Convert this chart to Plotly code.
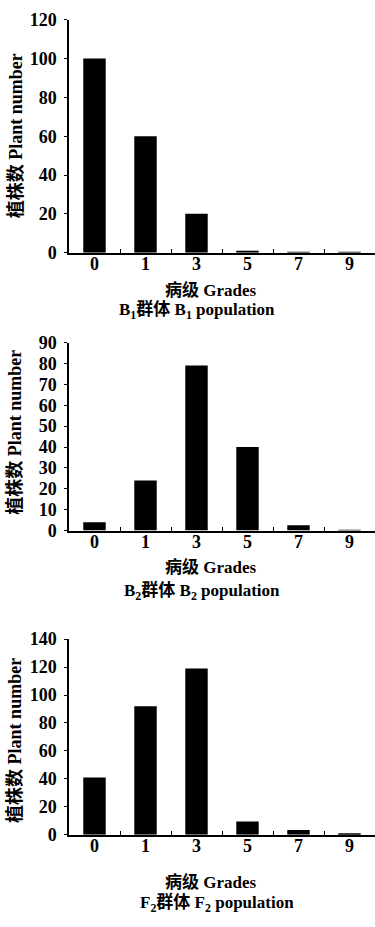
import plotly.graph_objects as go

grades = ["0", "1", "3", "5", "7", "9"]
b1_values = [100, 60, 20, 0.6, 0.3, 0.3]
b2_values = [4, 24, 79, 40, 2.5, 0.4]
f2_values = [41, 92, 119, 9.5, 3.5, 0.6]

b1_ticks = [0, 20, 40, 60, 80, 100, 120]
b2_ticks = [0, 10, 20, 30, 40, 50, 60, 70, 80, 90]
f2_ticks = [0, 20, 40, 60, 80, 100, 120, 140]

y_title = "植株数 Plant number"
x_title = "病级 Grades"
subtitles = ["B<sub>1</sub>群体 B<sub>1</sub> population",
             "B<sub>2</sub>群体 B<sub>2</sub> population",
             "F<sub>2</sub>群体 F<sub>2</sub> population"]

W, H = 375, 927
FONT = "Liberation Serif, Times New Roman, Noto Sans CJK SC, serif"

def py(px):
    return 1 - px / H

panels = [
    dict(values=b1_values, ticks=b1_ticks, top=10, bottom=248, ymax=120,
         title_y=286, sub_y=307, sub_x=197, ytitle_y=129),
    dict(values=b2_values, ticks=b2_ticks, top=340, bottom=532, ymax=90,
         title_y=569, sub_y=594, sub_x=202, ytitle_y=432),
    dict(values=f2_values, ticks=f2_ticks, top=643, bottom=843, ymax=140,
         title_y=891, sub_y=913, sub_x=217, ytitle_y=747),
]

fig = go.Figure()
annotations = []
x0 = 69
for i, p in enumerate(panels):
    sfx = "" if i == 0 else str(i + 1)
    fig.add_trace(go.Bar(x=grades, y=p["values"], marker=dict(color="black", line=dict(width=0)),
                         width=0.44, xaxis="x" + sfx, yaxis="y" + sfx, showlegend=False))
    fig.layout["xaxis" + sfx] = dict(
        domain=[x0 / W, 1.0], anchor="y" + sfx, type="category", range=[-0.5, 5.5],
        showline=True, linecolor="black", linewidth=1.5, showgrid=False, zeroline=False,
        ticks="inside", tickson="boundaries", ticklen=4, tickcolor="black", tickwidth=1.2,
        ticklabelstandoff=-6,
        tickfont=dict(family=FONT, size=18, color="black", weight="bold"), fixedrange=True)
    fig.layout["yaxis" + sfx] = dict(
        domain=[py(p["bottom"]), py(p["top"])], anchor="x" + sfx, range=[0, p["ymax"]],
        tickvals=p["ticks"], showline=True, linecolor="black", linewidth=1.5,
        showgrid=False, zeroline=False, ticks="outside", ticklen=3, tickcolor="black",
        tickwidth=1.2, ticklabelstandoff=4,
        tickfont=dict(family=FONT, size=18, color="black", weight="bold"),
        fixedrange=True)
    annotations.append(dict(text=x_title, x=211 / W, y=py(p["title_y"]), xref="paper", yref="paper",
                            showarrow=False, xanchor="center", yanchor="middle",
                            font=dict(family=FONT, size=17, color="black", weight="bold")))
    annotations.append(dict(text=subtitles[i], x=p["sub_x"] / W, y=py(p["sub_y"]), xref="paper",
                            yref="paper", showarrow=False, xanchor="center", yanchor="middle",
                            font=dict(family=FONT, size=17, color="black", weight="bold")))
    annotations.append(dict(text=y_title, x=15 / W, y=py(p["ytitle_y"]), xref="paper", yref="paper",
                            showarrow=False, xanchor="center", yanchor="middle", textangle=-90,
                            font=dict(family=FONT, size=18, color="black", weight="bold")))

fig.update_layout(width=W, height=H, margin=dict(l=0, r=0, t=0, b=0),
                  paper_bgcolor="white", plot_bgcolor="white", bargap=0.56,
                  annotations=annotations)

fig.write_html("out.html", config={"displayModeBar": False},
               post_script="document.body.style.margin='0';document.body.style.overflow='hidden';")
